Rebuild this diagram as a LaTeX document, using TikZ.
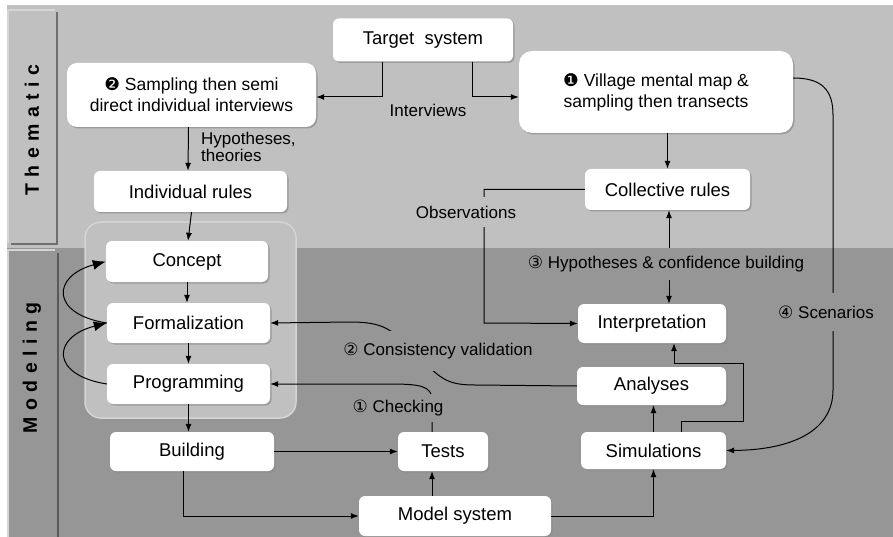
\documentclass[tikz,border=0pt]{standalone}
\usepackage{fontspec}
\setmainfont{Liberation Sans}
\newfontfamily\symfont{DejaVu Sans}
\newfontfamily\sidefont{Liberation Sans Bold}
\usetikzlibrary{arrows.meta,shadows}

\definecolor{topgray}{HTML}{C0C0C0}
\definecolor{modgray}{HTML}{969696}
\definecolor{edgelight}{HTML}{D4D4D4}
\definecolor{edgedark}{HTML}{6E6E6E}

\newcommand{\gp}{\hskip 6.5pt}

\begin{document}
\begin{tikzpicture}[x=1pt,y=-1pt,
  box/.style={fill=white,rounded corners=6pt,inner sep=0pt,
    drop shadow={shadow xshift=1.5pt,shadow yshift=-1.5pt,fill=black!45,opacity=0.7},
    font=\fontsize{18.5}{21}\selectfont},
  bigbox/.style={box,rounded corners=13pt,align=center,font=\fontsize{17.5}{21}\selectfont},
  lbl/.style={font=\fontsize{17}{17}\selectfont,inner xsep=4pt},
  arr/.style={-{Latex[length=8pt,width=6pt]},line width=1pt},
  looparr/.style={-{Latex[length=13pt,width=10pt]},line width=1pt},
  side/.style={font=\sidefont\fontsize{19.5}{20}\selectfont,rotate=90}]
\useasboundingbox (0,0) rectangle (893,537);
% bands
\fill[white] (0,0) rectangle (893,537);
\fill[topgray] (7,5) rectangle (893,248);
\fill[modgray] (7,248) rectangle (893,537);
\draw[edgelight,line width=2pt] (8,243) -- (8,10) -- (55,10);
\draw[edgedark,line width=2pt] (57,12) -- (57,244) -- (11,244);
\draw[edgelight,line width=2pt] (8,537) -- (8,250) -- (55,250);
\draw[edgedark!80!black,line width=2pt] (58,253) -- (58,537);
\node[side] (them) at (32,130) {T\gp h\gp e\gp m\gp a\gp t\gp i\gp c};
\node[side] (model) at (32,368) {M\gp o\gp d\gp e\gp l\gp i\gp n\gp g};
% group round the modeling steps
\draw[edgelight,fill=topgray,line width=1.5pt,rounded corners=16pt] (85,222) rectangle (296,418);
% boxes
\node[box,minimum width=180,minimum height=43] (tgt) at (423,40) {Target\ \ system};
\node[bigbox,rounded corners=10pt,minimum width=249,minimum height=64] (samp) at (191.5,95)
  {{\symfont ❷} Sampling then semi\\direct individual interviews};
\node[bigbox,minimum width=274,minimum height=82] (vill) at (656,92)
  {{\symfont ❶} Village mental map \&\\sampling then transects};
\node[box,minimum width=193,minimum height=41] (indiv) at (190.5,191.5) {Individual rules};
\node[box,minimum width=165,minimum height=41] (coll) at (667.5,189.5) {Collective rules};
\node[box,minimum width=162,minimum height=41] (concept) at (187,261.5) {Concept};
\node[box,minimum width=163,minimum height=40] (formal) at (188.5,323) {Formalization};
\node[box,minimum width=163,minimum height=40] (prog) at (188.5,384) {Programming};
\node[box,minimum width=164,minimum height=39] (build) at (192,451.5) {Building};
\node[box,minimum width=90,minimum height=39] (tests) at (443,451.5) {Tests};
\node[box,minimum width=192,minimum height=40] (msys) at (455,516) {Model system};
\node[box,minimum width=145,minimum height=37] (sim) at (653.5,450.5) {Simulations};
\node[box,minimum width=149,minimum height=38] (anal) at (651.5,386) {Analyses};
\node[box,minimum width=148,minimum height=39] (interp) at (652,323.5) {Interpretation};
% columns for the connectors
\coordinate (tleft) at (382,0);
\coordinate (tright) at (472,0);
\coordinate (tcol) at (432,0);
\coordinate (hcol) at (669,0);
% connectors
\draw[arr] (tleft |- tgt.south) |- ([yshift=-2pt]samp.east);
\draw[arr] (tright |- tgt.south) |- ([yshift=-5pt]vill.west);
\draw[arr] ([xshift=-3pt]samp.south) -- ([xshift=-2.5pt]indiv.north);
\draw[arr] (coll.north |- vill.south) -- (coll.north);
\draw[arr] (coll.west) -| (484,323) -- (interp.west);
\draw[{Latex[length=8pt,width=6pt]}-{Latex[length=8pt,width=6pt]},line width=1pt]
  (hcol |- coll.south) -- (hcol |- interp.north);
\draw[arr] ([xshift=1pt]indiv.south) -- ([xshift=1pt]concept.north);
\draw[arr] (concept.south) -- (concept.south |- formal.north);
\draw[arr] (formal.south) -- (prog.north);
\draw[arr] (prog.south) -- (prog.south |- build.north);
\draw[looparr] (formal.west) .. controls (50,314) and (52,276) .. (concept.west);
\draw[looparr] (prog.west) .. controls (50,375) and (52,337) .. (formal.west);
\draw[arr] (anal.west) -- (475,385) .. controls (445,385) and (440,378) .. (414,352)
  .. controls (392,330) and (385,322) .. (350,322) -- (formal.east);
\draw[arr] (tcol |- tests.north) -- (432,400) .. controls (432,386) and (420,384) .. (390,384) -- (prog.east);
\draw[arr] (build.east) -- (tests.west);
\draw[arr] ([xshift=-9pt]build.south) |- (msys.west);
\draw[arr] (tcol |- msys.north) -- (tcol |- tests.south);
\draw[arr] (msys.east) -| (sim.south);
\draw[arr] (sim.north) -- (sim.north |- anal.south);
\draw[arr] ([xshift=27.5pt]sim.north) -- ++(0,-10) -| (743,363) -| ([xshift=22pt]interp.south);
\draw[arr] ([yshift=14pt]vill.east) .. controls (822,78) and (833,90) .. (833,115) -- (833,390)
  .. controls (833,432) and (790,450) .. (sim.east);
% labels
\node[lbl] (intv) at (428,110) {Interviews};
\node[lbl,anchor=west,align=left] (hyp) at (197,147) {Hypotheses,\\theories};
\node[lbl,fill=topgray,inner ysep=9pt] (obs) at (466,212) {Observations};
\node[lbl,fill=modgray,minimum height=32] (conf) at (666,264) {{\symfont ③} Hypotheses \& confidence building};
\node[lbl,fill=modgray,inner ysep=13pt] (scen) at (826,312) {{\symfont ④} Scenarios};
\node[lbl,fill=modgray,inner ysep=12pt] (cons) at (438,351) {{\symfont ②} Consistency validation};
\node[lbl,fill=modgray,inner ysep=6pt] (chk) at (398,408) {{\symfont ①} Checking};
\end{tikzpicture}
\end{document}
